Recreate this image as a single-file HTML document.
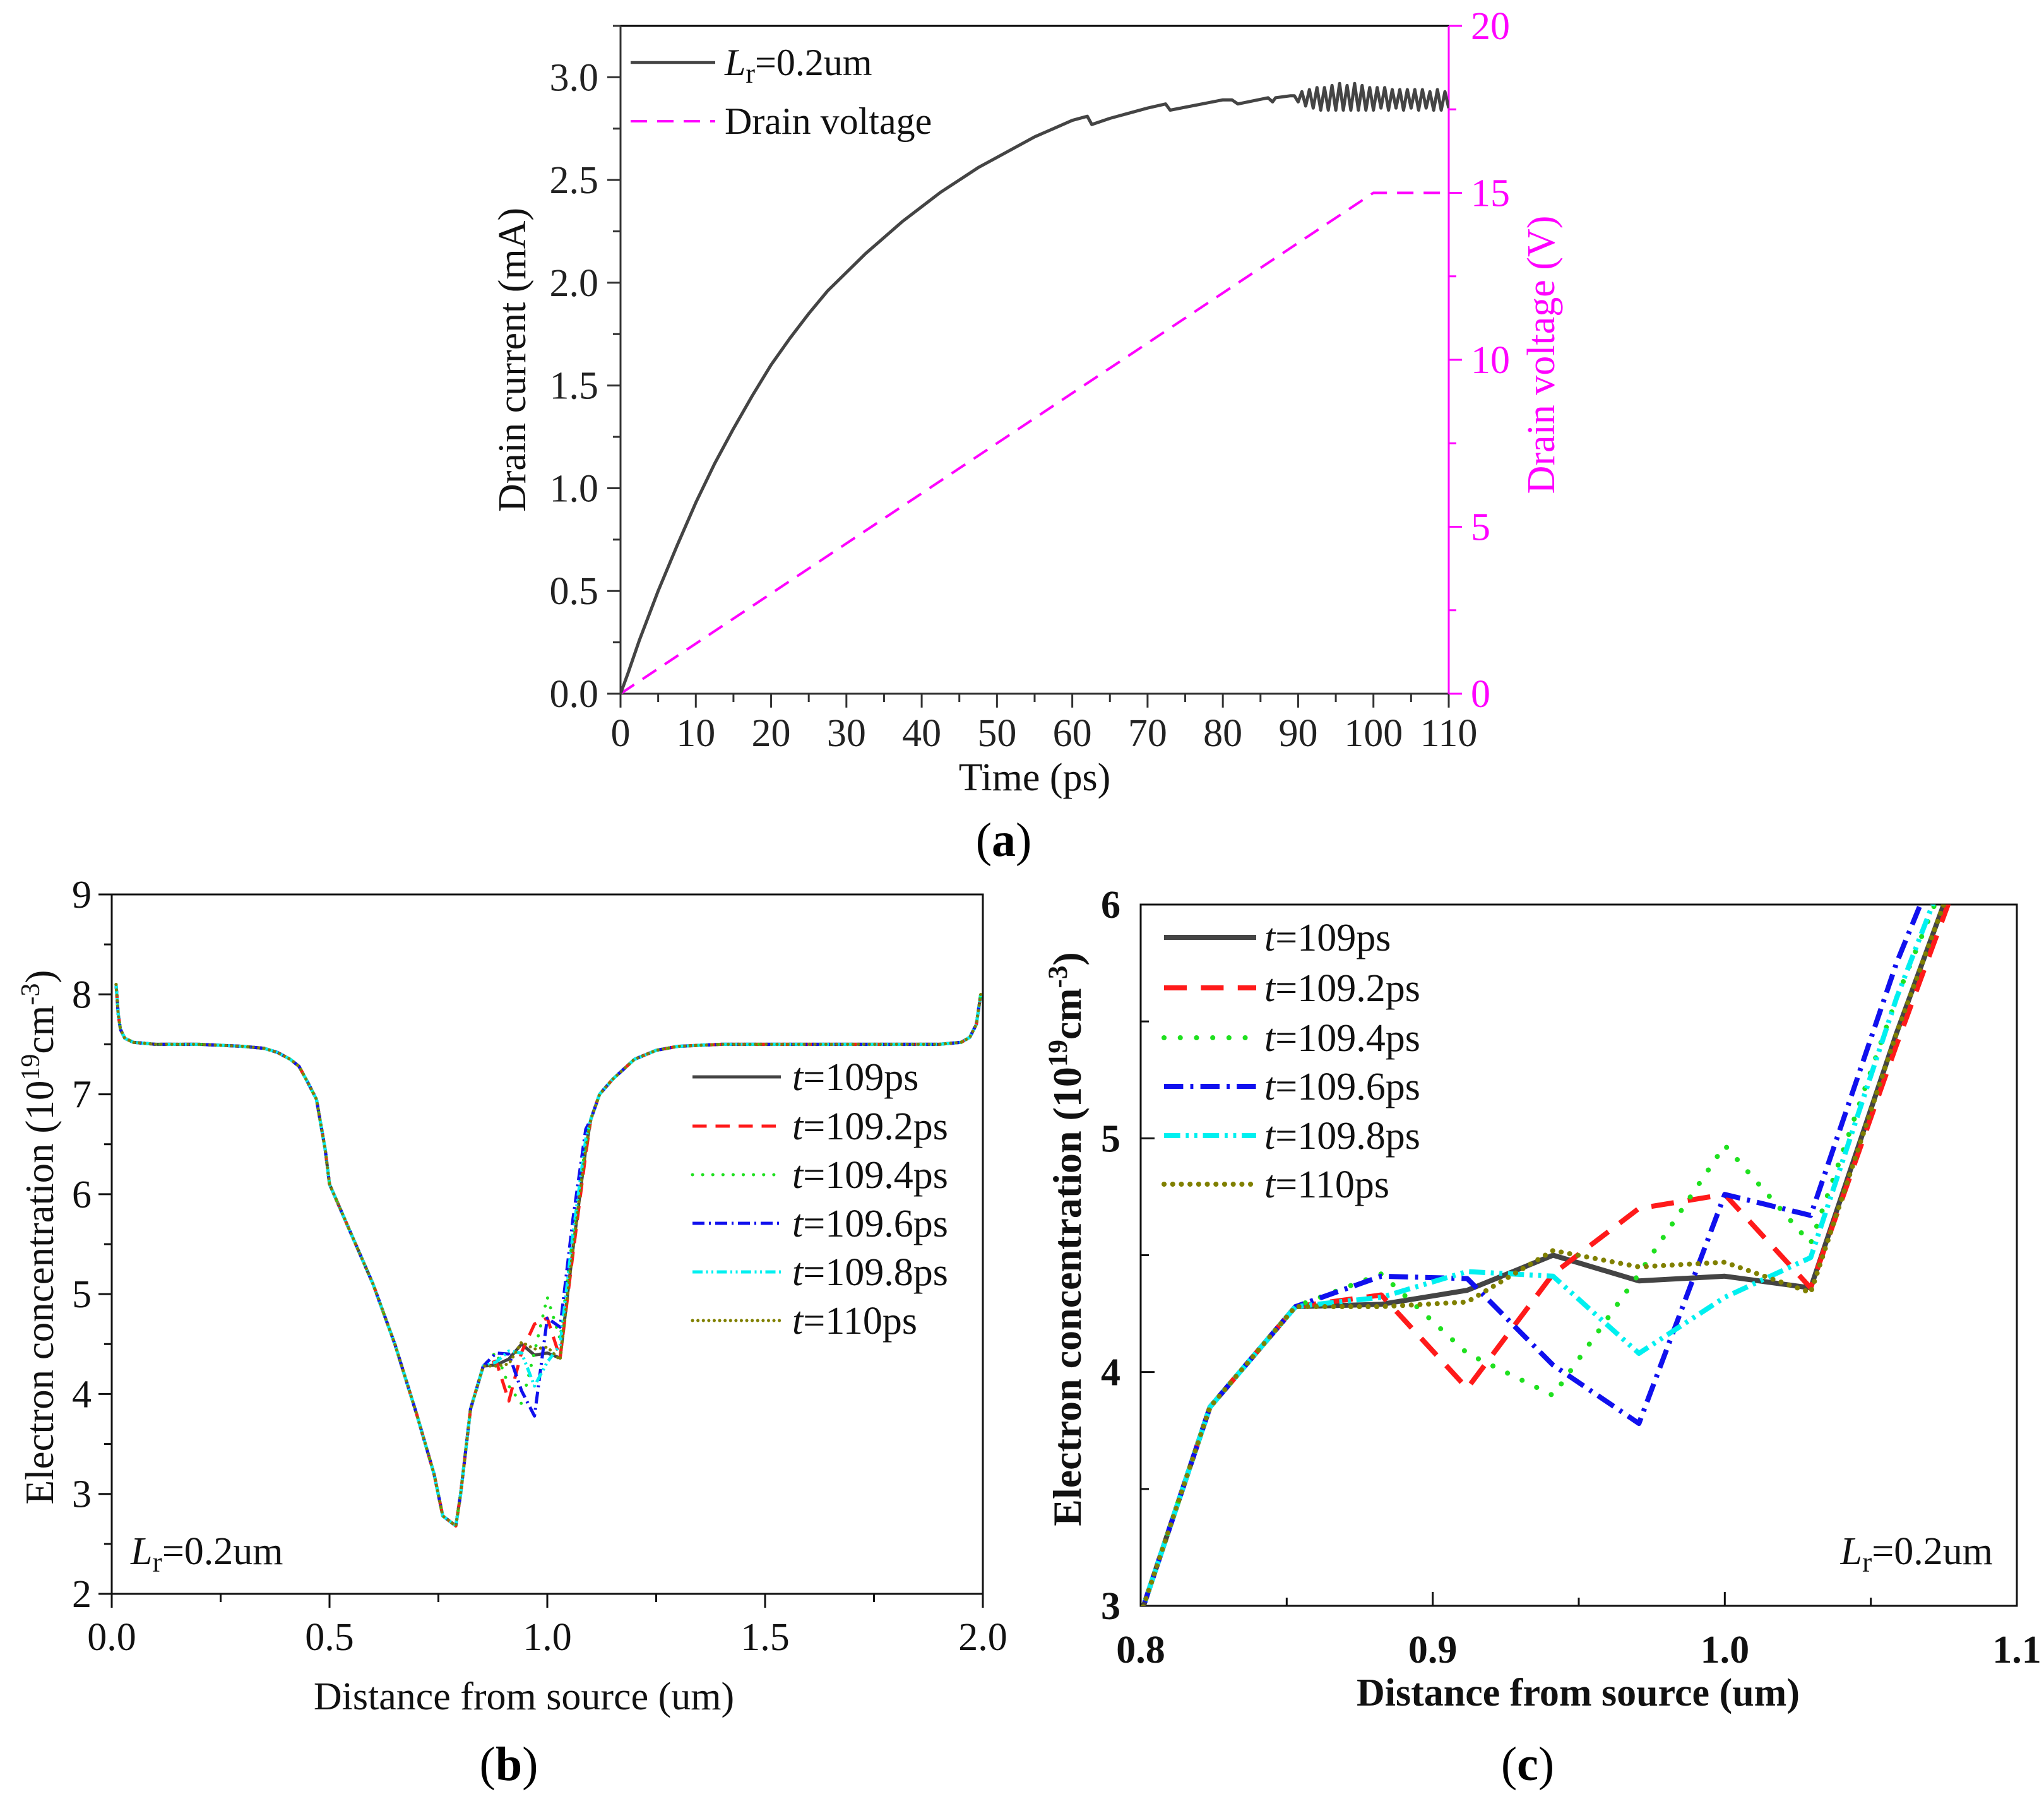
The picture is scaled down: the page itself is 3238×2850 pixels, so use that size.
<!DOCTYPE html>
<html><head><meta charset="utf-8"><style>
html,body{margin:0;padding:0;background:#fff;}
svg{display:block;font-family:"Liberation Serif",serif;}
</style></head><body>
<svg id="fig" xmlns="http://www.w3.org/2000/svg" width="3238" height="2850" viewBox="0 0 3238 2850" font-family="Liberation Serif, serif">
<defs>
<clipPath id="clipA"><rect x="983" y="41" width="1312" height="1058"/></clipPath>
<clipPath id="clipB"><rect x="177" y="1417" width="1380" height="1108"/></clipPath>
<clipPath id="clipC"><rect x="1807" y="1433" width="1388" height="1111"/></clipPath>
</defs>
<g id="gA"></g>
<g id="gB"></g>
<g id="gC"></g>
</svg>
<script>
// ---- Panel (a) data ----
const aTime = [0,1,2.5,5,7.5,10,12.5,15,17.5,20,22.5,25,27.5,30,32.5,35,37.5,40,42.5,45,47.5,50,52.5,55,57.5,60,62,62.6,65,70,72.4,73,80,81.2,82,86,86.6,87,89];
const aCurrent = [0,0.1,0.26,0.50,0.72,0.93,1.12,1.29,1.45,1.60,1.73,1.85,1.96,2.05,2.14,2.22,2.30,2.37,2.44,2.50,2.56,2.61,2.66,2.71,2.75,2.79,2.81,2.77,2.80,2.85,2.87,2.84,2.89,2.89,2.87,2.90,2.88,2.90,2.91];
const aOscTime = [89.5,90,90.5,91,91.5,92,92.5,93,93.5,94,94.5,95,95.5,96,96.5,97,97.5,98,98.5,99,99.5,100,100.5,101,101.5,102,102.5,103,103.5,104,104.5,105,105.5,106,106.5,107,107.5,108,108.5,109,109.5,110];
const aOscCurrent = [2.91,2.88,2.93,2.86,2.94,2.85,2.95,2.84,2.95,2.84,2.96,2.84,2.97,2.84,2.96,2.84,2.97,2.84,2.96,2.84,2.95,2.84,2.95,2.85,2.95,2.84,2.94,2.85,2.94,2.84,2.94,2.85,2.94,2.84,2.94,2.85,2.93,2.84,2.94,2.84,2.93,2.85];
const aVoltTime = [0,100,110];
const aVoltage = [0,15,15];
const aXTicks = [0,10,20,30,40,50,60,70,80,90,100,110];
const aYTicks = [0,0.5,1.0,1.5,2.0,2.5,3.0];
const aYTickLabels = ["0.0","0.5","1.0","1.5","2.0","2.5","3.0"];
const aY2Ticks = [0,5,10,15,20];

// ---- Panel (b)/(c) data ----
const leftX = [0.01,0.015,0.02,0.03,0.05,0.1,0.2,0.3,0.35,0.38,0.41,0.43,0.45,0.47,0.49,0.5,0.55,0.6,0.65,0.7,0.74,0.76,0.79,0.801,0.8237,0.853];
const leftY = [8.1,7.8,7.65,7.56,7.52,7.5,7.5,7.48,7.46,7.42,7.35,7.28,7.12,6.95,6.45,6.1,5.6,5.1,4.5,3.8,3.2,2.78,2.68,3.0,3.85,4.28];
const midX = [0.8824,0.9118,0.9412,0.9706,1.0,1.0294,1.0588,1.0882];
const s109 = [4.29,4.35,4.50,4.39,4.41,4.36,5.45,6.45];
const s1092 = [4.33,3.93,4.42,4.70,4.76,4.36,5.40,6.40];
const s1094 = [4.42,4.08,3.90,4.42,4.97,4.55,5.60,6.50];
const s1096 = [4.41,4.40,4.03,3.78,4.76,4.67,5.75,6.65];
const s1098 = [4.32,4.43,4.41,4.08,4.32,4.49,5.60,6.55];
const s110 = [4.28,4.30,4.52,4.45,4.47,4.34,5.45,6.45];
const rightX = [1.1,1.12,1.15,1.2,1.25,1.3,1.4,1.6,1.8,1.9,1.95,1.97,1.985,1.995];
const rightY = [6.75,7.0,7.15,7.35,7.44,7.48,7.5,7.5,7.5,7.5,7.52,7.57,7.7,8.0];
const seriesLabels = ["109ps","109.2ps","109.4ps","109.6ps","109.8ps","110ps"];
const bXTicks = [0,0.5,1.0,1.5,2.0];
const bXTickLabels = ["0.0","0.5","1.0","1.5","2.0"];
const bYTicks = [2,3,4,5,6,7,8,9];
const cXTicks = [0.8,0.9,1.0,1.1];
const cXTickLabels = ["0.8","0.9","1.0","1.1"];
const cYTicks = [3,4,5,6];

const NS="http://www.w3.org/2000/svg";
const styles=[
 {c:"#444444",d:""},
 {c:"#ff1a1a",d:"L"},
 {c:"#1fe01f",d:"D"},
 {c:"#1010ee",d:"DD"},
 {c:"#00f0f0",d:"DDD"},
 {c:"#808000",d:"O"}
];
function dash(k,w){
 if(k==="L")return (4.5*w)+" "+(2.8*w);
 if(k==="D")return "0.1 "+(3.2*w);
 if(k==="DD")return (3.8*w)+" "+(1.4*w)+" "+(0.6*w)+" "+(1.4*w);
 if(k==="DDD")return (3.2*w)+" "+(1.1*w)+" "+(0.6*w)+" "+(1.1*w)+" "+(0.6*w)+" "+(1.1*w);
 if(k==="O")return "0.1 "+(1.7*w);
 return "";
}
function el(tag,attrs,parent){const e=document.createElementNS(NS,tag);for(const k in attrs)e.setAttribute(k,attrs[k]);parent.appendChild(e);return e;}
function lin(v,d0,d1,r0,r1){return r0+(v-d0)/(d1-d0)*(r1-r0);}
function pathD(xs,ys,ax){let s="";for(let i=0;i<xs.length;i++){s+=(i?"L":"M")+ax.sx(xs[i]).toFixed(1)+","+ax.sy(ys[i]).toFixed(1);}return s;}
const TF=62;

// ===== Panel A =====
const gA=document.getElementById("gA");
const A={sx:v=>lin(v,0,110,983,2295),sy:v=>lin(v,0,3.25,1099,41)};
const A2={sx:A.sx,sy:v=>lin(v,0,20,1099,41)};
let e;
e=el("line",{x1:983,y1:41,x2:2295,y2:41,stroke:"#000","stroke-width":3},gA);

e=el("line",{x1:983,y1:41,x2:983,y2:1100,stroke:"#333","stroke-width":3},gA);

e=el("line",{x1:982,y1:1099,x2:2295,y2:1099,stroke:"#333","stroke-width":3},gA);

e=el("line",{x1:2295,y1:41,x2:2295,y2:1100,stroke:"#ff00ff","stroke-width":3},gA);

aXTicks.forEach((t,i)=>{
 const x=A.sx(t);
 e=el("line",{x1:x,y1:1099,x2:x,y2:1121,stroke:"#333","stroke-width":3},gA);
 
 e=el("text",{x:x,y:1182,"font-size":TF,"text-anchor":"middle",fill:"#222"},gA);
 
 e.textContent=String(t);
 if(i<aXTicks.length-1){const xm=A.sx(t+5);
 e=el("line",{x1:xm,y1:1099,x2:xm,y2:1112,stroke:"#333","stroke-width":3},gA);
 }
});
aYTicks.forEach((t,i)=>{
 const y=A.sy(t);
 e=el("line",{x1:962,y1:y,x2:983,y2:y,stroke:"#333","stroke-width":3},gA);
 
 e=el("text",{x:948,y:y+21,"font-size":TF,"text-anchor":"end",fill:"#222"},gA);
 
 e.textContent=aYTickLabels[i];
 const ym=A.sy(t+0.25);
 e=el("line",{x1:971,y1:ym,x2:983,y2:ym,stroke:"#333","stroke-width":3},gA);
 
});
aY2Ticks.forEach((t,i)=>{
 const y=A2.sy(t);
 e=el("line",{x1:2295,y1:y,x2:2316,y2:y,stroke:"#ff00ff","stroke-width":3},gA);
 
 e=el("text",{x:2330,y:y+21,"font-size":TF,"text-anchor":"start",fill:"#ff00ff"},gA);
 
 e.textContent=String(t);
 if(i<aY2Ticks.length-1){const ym=A2.sy(t+2.5);
 e=el("line",{x1:2295,y1:ym,x2:2307,y2:ym,stroke:"#ff00ff","stroke-width":3},gA);
 }
});
e=el("path",{d:pathD(aVoltTime,aVoltage,A2),fill:"none",stroke:"#ff00ff","stroke-width":4,"stroke-dasharray":"26 16","clip-path":"url(#clipA)"},gA);

e=el("path",{d:pathD(aTime.concat(aOscTime),aCurrent.concat(aOscCurrent),A),fill:"none",stroke:"#444","stroke-width":5,"stroke-linejoin":"round","clip-path":"url(#clipA)"},gA);

e=el("line",{x1:999,y1:99,x2:1133,y2:99,stroke:"#444","stroke-width":4.5},gA);

e=el("text",{x:1148,y:119,"font-size":60,fill:"#111"},gA);

e.innerHTML='<tspan font-style="italic">L</tspan><tspan font-size="44" dy="12">r</tspan><tspan dy="-12">=0.2um</tspan>';
e=el("line",{x1:999,y1:192,x2:1133,y2:192,stroke:"#ff00ff","stroke-width":4,"stroke-dasharray":"26 16"},gA);

e=el("text",{x:1148,y:212,"font-size":60,fill:"#111"},gA);

e.textContent="Drain voltage";
e=el("text",{x:1639,y:1252,"font-size":62,"text-anchor":"middle",fill:"#111"},gA);

e.textContent="Time (ps)";
e=el("text",{x:0,y:0,"font-size":62,"text-anchor":"middle",fill:"#111",transform:"translate(832,570) rotate(-90)"},gA);

e.textContent="Drain current (mA)";
e=el("text",{x:0,y:0,"font-size":62,"text-anchor":"middle",fill:"#ff00ff",transform:"translate(2462,562) rotate(-90)"},gA);

e.textContent="Drain voltage (V)";
e=el("text",{x:1590,y:1356,"font-size":76,"text-anchor":"middle",fill:"#000"},gA);

e.innerHTML='(<tspan font-weight="bold">a</tspan>)';

// ===== Series helper =====
const sData=[s109,s1092,s1094,s1096,s1098,s110];
function drawSeries(g,ax,clip,w,full,pre){
 sData.forEach((sv,i)=>{
  let xs=leftX.concat(midX),ys=leftY.concat(sv);
  if(full){xs=xs.concat(rightX);ys=ys.concat(rightY);}
  const st=styles[i];
  const p=el("path",{d:pathD(xs,ys,ax),fill:"none",stroke:st.c,"stroke-width":w,"stroke-linejoin":"round","stroke-linecap":(st.d==="D"||st.d==="O")?"round":"butt","clip-path":clip},g);
  if(st.d)p.setAttribute("stroke-dasharray",dash(st.d,w));
  
 });
}
function legend(g,x0,x1,tx,ys,w,fs,pre){
 seriesLabels.forEach((lab,i)=>{
  const st=styles[i];
  const l=el("line",{x1:x0,y1:ys[i],x2:x1,y2:ys[i],stroke:st.c,"stroke-width":w,"stroke-linecap":(st.d==="D"||st.d==="O")?"round":"butt"},g);
  if(st.d)l.setAttribute("stroke-dasharray",dash(st.d,w));
  
  const t=el("text",{x:tx,y:ys[i]+21,"font-size":fs,fill:"#111"},g);
  
  t.innerHTML='<tspan font-style="italic">t</tspan>='+lab;
 });
}

// ===== Panel B =====
const gB=document.getElementById("gB");
const B={sx:v=>lin(v,0,2,177,1557),sy:v=>lin(v,2,9,2525,1417)};
e=el("rect",{x:177,y:1417,width:1380,height:1108,fill:"none",stroke:"#111","stroke-width":3},gB);

bXTicks.forEach((t,i)=>{
 const x=B.sx(t);
 e=el("line",{x1:x,y1:2525,x2:x,y2:2547,stroke:"#111","stroke-width":3},gB);
 
 e=el("text",{x:x,y:2614,"font-size":TF,"text-anchor":"middle",fill:"#111"},gB);
 
 e.textContent=bXTickLabels[i];
 if(i<bXTicks.length-1){const xm=B.sx(t+0.25);
 e=el("line",{x1:xm,y1:2525,x2:xm,y2:2538,stroke:"#111","stroke-width":3},gB);
 }
});
bYTicks.forEach((t,i)=>{
 const y=B.sy(t);
 e=el("line",{x1:156,y1:y,x2:177,y2:y,stroke:"#111","stroke-width":3},gB);
 
 e=el("text",{x:145,y:y+21,"font-size":TF,"text-anchor":"end",fill:"#111"},gB);
 
 e.textContent=String(t);
 if(i<bYTicks.length-1){const ym=B.sy(t+0.5);
 e=el("line",{x1:165,y1:ym,x2:177,y2:ym,stroke:"#111","stroke-width":3},gB);
 }
});
drawSeries(gB,B,"url(#clipB)",5,true,"b");
legend(gB,1097,1237,1255,[1706,1784,1861,1938,2015,2092],5,62,"b");
e=el("text",{x:207,y:2478,"font-size":62,fill:"#111"},gB);

e.innerHTML='<tspan font-style="italic">L</tspan><tspan font-size="46" dy="12">r</tspan><tspan dy="-12">=0.2um</tspan>';
e=el("text",{x:830,y:2708,"font-size":62,"text-anchor":"middle",fill:"#111"},gB);

e.textContent="Distance from source (um)";
e=el("text",{x:0,y:0,"font-size":63,"text-anchor":"middle",fill:"#111",transform:"translate(84,1960) rotate(-90)"},gB);

e.innerHTML='Electron concentration (10<tspan font-size="42" dy="-22">19</tspan><tspan dy="22">cm</tspan><tspan font-size="42" dy="-22">-3</tspan><tspan dy="22">)</tspan>';
e=el("text",{x:806,y:2820,"font-size":76,"text-anchor":"middle",fill:"#000"},gB);

e.innerHTML='(<tspan font-weight="bold">b</tspan>)';

// ===== Panel C =====
const gC=document.getElementById("gC");
const C={sx:v=>lin(v,0.8,1.1,1807,3195),sy:v=>lin(v,3,6,2544,1433)};
e=el("rect",{x:1807,y:1433,width:1388,height:1111,fill:"none",stroke:"#111","stroke-width":3},gC);

cXTicks.forEach((t,i)=>{
 const x=C.sx(t);
 e=el("line",{x1:x,y1:2544,x2:x,y2:2522,stroke:"#111","stroke-width":3},gC);
 
 e=el("text",{x:x,y:2634,"font-size":TF,"font-weight":"bold","text-anchor":"middle",fill:"#111"},gC);
 
 e.textContent=cXTickLabels[i];
 if(i<cXTicks.length-1){const xm=C.sx(t+0.05);
 e=el("line",{x1:xm,y1:2544,x2:xm,y2:2531,stroke:"#111","stroke-width":3},gC);
 }
});
cYTicks.forEach((t,i)=>{
 const y=C.sy(t);
 e=el("line",{x1:1807,y1:y,x2:1829,y2:y,stroke:"#111","stroke-width":3},gC);
 
 e=el("text",{x:1775,y:y+21,"font-size":TF,"font-weight":"bold","text-anchor":"end",fill:"#111"},gC);
 
 e.textContent=String(t);
 if(i<cYTicks.length-1){const ym=C.sy(t+0.5);
 e=el("line",{x1:1807,y1:ym,x2:1820,y2:ym,stroke:"#111","stroke-width":3},gC);
 }
});
drawSeries(gC,C,"url(#clipC)",8,false,"c");
legend(gC,1844,1990,2003,[1485,1565,1644,1721,1799,1876],8,62,"c");
e=el("text",{x:3157,y:2478,"font-size":62,"text-anchor":"end",fill:"#111"},gC);

e.innerHTML='<tspan font-style="italic">L</tspan><tspan font-size="46" dy="12">r</tspan><tspan dy="-12">=0.2um</tspan>';
e=el("text",{x:2500,y:2702,"font-size":62,"font-weight":"bold","text-anchor":"middle",fill:"#111"},gC);

e.textContent="Distance from source (um)";
e=el("text",{x:0,y:0,"font-size":64,"font-weight":"bold","text-anchor":"middle",fill:"#111",transform:"translate(1712,1963) rotate(-90)"},gC);

e.innerHTML='Electron concentration (10<tspan font-size="43" dy="-22">19</tspan><tspan dy="22">cm</tspan><tspan font-size="43" dy="-22">-3</tspan><tspan dy="22">)</tspan>';
e=el("text",{x:2420,y:2820,"font-size":76,"text-anchor":"middle",fill:"#000"},gC);

e.innerHTML='(<tspan font-weight="bold">c</tspan>)';
</script>
</body></html>
